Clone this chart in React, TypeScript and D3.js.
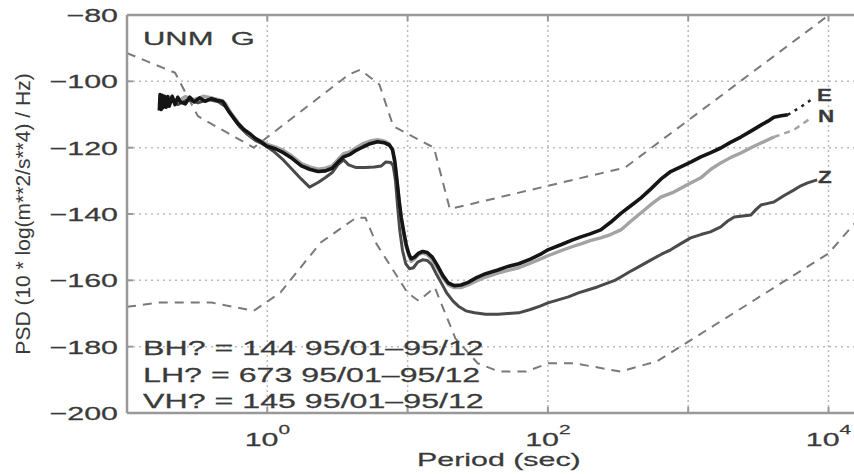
import React from 'react'
import * as d3 from 'd3'

// axis ticks
const yTicks = [-200, -180, -160, -140, -120, -100, -80]
const yGrid = [-180, -160, -140, -120, -100]
const xGrid = [1, 10, 100, 1000, 10000]
const xLabelTicks = [1, 100, 10000]
const xLabelExp = ['0', '2', '4']

const stationLines = ['BH? = 144 95/01\u201395/12', 'LH? = 673 95/01\u201395/12', 'VH? = 145 95/01\u201395/12']

// Peterson high / low noise models (breakpoints)
const nhnmPeriod = [0.1, 0.22, 0.32, 0.8, 3.8, 4.6, 6.3, 7.9, 15.4, 20, 354.8, 10000, 100000]
const nhnmDb = [-91.5, -97.4, -110.5, -120.0, -98.0, -96.5, -101.0, -113.5, -120.0, -138.5, -126.0, -80.1, -48.5]
const nlnmPeriod = [0.1, 0.17, 0.4, 0.8, 1.24, 2.4, 4.3, 5, 6, 10, 12, 15.6, 21.9, 31.6, 45, 70, 101, 154, 328, 600, 10000, 100000]
const nlnmDb = [-168.0, -166.7, -166.7, -169.2, -163.7, -148.6, -141.1, -141.1, -149.0, -163.8, -166.2, -162.1, -177.5, -185.0, -187.5, -187.5, -185.0, -185.0, -187.5, -184.4, -151.9, -103.1]

// E component
const ePeriod = [0.17, 0.172, 0.175, 0.178, 0.18, 0.185, 0.19, 0.195, 0.2, 0.21, 0.22, 0.23, 0.24, 0.26, 0.28, 0.3, 0.33, 0.36, 0.4, 0.44, 0.48, 0.5, 0.53, 0.57, 0.62, 0.68, 0.75, 0.82, 0.9, 1.0, 1.15, 1.3, 1.5, 1.75, 2.0, 2.3, 2.6, 2.9, 3.2, 3.5, 3.9, 4.3, 4.8, 5.4, 6.1, 6.8, 7.4, 7.8, 8.1, 8.4, 8.7, 9.0, 9.4, 9.8, 10.2, 10.6, 11.2, 12.0, 12.8, 13.8, 15.0, 16.3, 17.8, 19.5, 21.5, 24, 27, 31, 36, 44, 52, 62, 75, 88, 100, 125, 150, 172, 200, 238, 280, 331, 390, 459, 540, 638, 750, 885, 1050, 1230, 1450, 1707, 2000, 2371, 2800, 3296, 3700, 4078, 4600, 5129]
const eDb = [-108.8, -104, -108.5, -104.2, -108, -104.5, -107.8, -104.6, -107.5, -104.5, -107, -104.8, -106.2, -106.8, -104.8, -106.2, -105, -106, -105.2, -105.8, -106, -107.2, -109, -110.8, -112.8, -114.5, -115.8, -117.2, -118.2, -119.6, -120.4, -121.5, -123.2, -125.5, -126.5, -127.2, -127, -126.2, -124.3, -122.8, -122, -120.8, -119.8, -118.8, -118.2, -118.5, -119.2, -120.5, -124, -130, -136, -141, -145.5, -149.5, -152, -153.5, -153, -151.8, -151.3, -151.6, -153, -155.5, -158.5, -160.8, -161.6, -161.4, -160.6, -159.2, -158, -156.9, -155.8, -155, -153.6, -152.2, -150.8, -149.2, -147.8, -146.9, -146, -144.8, -142.5, -139.8, -137.5, -135.2, -132.5, -129.5, -127.2, -125.8, -124.3, -122.8, -121.5, -120.1, -118.4, -116.8, -115, -113.2, -112, -110.8, -110.4, -110.1]
const eTailPeriod = [5129, 6353, 7852]
const eTailDb = [-110.1, -107.7, -105]

// N component
const nPeriod = [0.18, 0.2, 0.23, 0.26, 0.3, 0.35, 0.4, 0.45, 0.5, 0.55, 0.62, 0.7, 0.8, 0.9, 1.0, 1.15, 1.3, 1.5, 1.75, 2.0, 2.3, 2.6, 2.9, 3.2, 3.5, 3.9, 4.3, 4.8, 5.4, 6.1, 6.8, 7.4, 7.8, 8.2, 8.5, 8.8, 9.2, 9.6, 10.0, 10.6, 11.2, 12.0, 12.8, 13.8, 15.0, 16.3, 17.8, 19.5, 21.5, 24, 27, 31, 36, 44, 52, 62, 75, 88, 100, 125, 150, 172, 200, 238, 280, 331, 390, 459, 540, 638, 790, 1000, 1230, 1450, 1707, 2000, 2371, 2800, 3296, 4078]
const nDb = [-106, -104.8, -106, -104.6, -105.5, -104.5, -105, -105.5, -106.5, -109.5, -112.5, -115, -117, -118, -119, -119.8, -120.8, -122.5, -124.8, -125.8, -126.5, -126.2, -125.5, -123.5, -121.8, -121.2, -120, -118.8, -118, -117.6, -118, -118.8, -120.8, -126, -132, -138, -144, -148.5, -151.2, -154.3, -153.6, -152.2, -151.8, -152.2, -153.8, -156.2, -159.2, -161.4, -162.2, -162.2, -161.4, -160.2, -159, -157.8, -157, -156.2, -154.8, -153.6, -152.6, -151, -149.8, -149, -148, -147.2, -146.2, -144.8, -142.2, -139.7, -137.2, -134.9, -133.4, -131, -129.1, -126.5, -124.6, -123, -121.6, -120, -118.6, -116.8]
const nTailPeriod = [4078, 5650, 7470]
const nTailDb = [-116.8, -114.7, -111.1]

// Z component
const zPeriod = [0.18, 0.2, 0.23, 0.27, 0.32, 0.38, 0.45, 0.5, 0.56, 0.63, 0.72, 0.82, 0.92, 1.0, 1.1, 1.3, 1.5, 1.75, 2.0, 2.3, 2.6, 2.9, 3.2, 3.5, 3.8, 4.3, 5.0, 5.8, 6.5, 7.0, 7.6, 7.9, 8.2, 8.5, 8.8, 9.2, 9.7, 10.3, 11.0, 11.8, 12.8, 13.8, 14.8, 16, 17.5, 19, 21, 23, 26, 30, 36, 44, 52, 62, 75, 88, 100, 120, 140, 165, 192, 225, 260, 300, 331, 380, 440, 540, 640, 750, 880, 1040, 1230, 1440, 1707, 1900, 2130, 2450, 2800, 3050, 3296, 3700, 4078, 4800, 5650, 6350, 7100, 8300]
const zDb = [-107, -105.5, -107, -105.5, -106.5, -105.5, -106.2, -107.5, -110.5, -113.5, -116, -117.8, -118.8, -119.8, -121, -123.7, -126.5, -129.5, -131.9, -130.5, -129, -127.5, -125, -123.7, -125.2, -126, -126, -125.8, -125.5, -124.3, -124.5, -125.5, -130, -138, -145, -151, -155, -156.5, -156.2, -154.5, -153.8, -154, -155.2, -158, -161, -163.8, -166.2, -167.8, -169.2, -169.8, -170.2, -170.2, -170, -169.8, -168.8, -167.8, -166.8, -165.8, -165, -163.8, -162.9, -162, -161, -160, -159, -157.5, -156, -153.9, -152.2, -150.8, -149, -147.2, -146.2, -145.4, -143.9, -142.2, -140.9, -140.6, -140.3, -138.6, -137.3, -136.8, -136.4, -134.5, -132.8, -131.5, -130.6, -129.7]

const W = 854
const H = 474
const left = 127
const top = 15
const bottom = 413
const decade = 140.3

const xScale = d3.scaleLog().domain([0.1, 2e4]).range([left, left + decade * Math.log10(2e5)])
const yScale = d3.scaleLinear().domain([-200, -80]).range([bottom, top])
const right = xScale(2e4)

const line = d3.line<[number, number]>()
    .x(d => xScale(d[0]))
    .y(d => yScale(d[1]))

const path = (p: number[], v: number[]) => line(d3.zip(p, v) as [number, number][]) || ''

const textCol = '#3a3a3a'

// horizontally stretched text, like the source picture
function SText({ x, y, size, sx = 1.6, anchor = 'start', children, weight = 'normal' }: any) {
    return (
        <text transform={`translate(${x},${y}) scale(${sx},1)`} fontSize={size} textAnchor={anchor}
            fill={textCol} fontWeight={weight} stroke={textCol} strokeWidth={0.25} style={{ whiteSpace: 'pre' }}>
            {children}
        </text>
    )
}

export default function App() {
    return (
        <div style={{ position: 'absolute', left: 0, top: 0 }}>
            <svg width={W} height={H} style={{ display: 'block', background: '#fff' }}
                fontFamily="'Liberation Sans', Arial, Helvetica, sans-serif">
                <defs>
                    <clipPath id="plot">
                        <rect x={left} y={top} width={right - left} height={bottom - top} />
                    </clipPath>
                </defs>

                {/* grid */}
                {yGrid.map(v => (
                    <line key={'gy' + v} x1={left} x2={right} y1={yScale(v)} y2={yScale(v)}
                        stroke="#bbb" strokeWidth={1.5} strokeDasharray="2,4" />
                ))}
                {xGrid.map(v => (
                    <line key={'gx' + v} x1={xScale(v)} x2={xScale(v)} y1={top} y2={bottom}
                        stroke="#bbb" strokeWidth={1.5} strokeDasharray="2,3" />
                ))}

                <g clipPath="url(#plot)" fill="none" strokeLinejoin="round">
                    <path d={path(nhnmPeriod, nhnmDb)} stroke="#7a7a7a" strokeWidth={2} strokeDasharray="9,7" />
                    <path d={path(nlnmPeriod, nlnmDb)} stroke="#7a7a7a" strokeWidth={2} strokeDasharray="9,7" />
                    <path d={path(zPeriod, zDb)} stroke="#4a4a4a" strokeWidth={3} />
                    <path d={path(nPeriod, nDb)} stroke="#a3a3a3" strokeWidth={3.4} />
                    <path d={path(nTailPeriod, nTailDb)} stroke="#a3a3a3" strokeWidth={2.5} strokeDasharray="6,5" />
                    <path d={path(ePeriod, eDb)} stroke="#151515" strokeWidth={3.6} />
                    <path d={path(eTailPeriod, eTailDb)} stroke="#222" strokeWidth={2.5} strokeDasharray="3,5" />
                </g>

                {/* axes box */}
                <line x1={left} x2={left} y1={top} y2={bottom} stroke="#999" strokeWidth={2.5} />
                <line x1={left} x2={right} y1={bottom} y2={bottom} stroke="#999" strokeWidth={2.5} />
                <line x1={left} x2={right} y1={top} y2={top} stroke="#999" strokeWidth={2.5} />
                {yTicks.map(v => (
                    <line key={'ty' + v} x1={left} x2={left + 6} y1={yScale(v)} y2={yScale(v)} stroke="#999" strokeWidth={2} />
                ))}
                {xGrid.map(v => (
                    <g key={'tx' + v}>
                        <line x1={xScale(v)} x2={xScale(v)} y1={bottom} y2={bottom - 6} stroke="#999" strokeWidth={2} />
                        <line x1={xScale(v)} x2={xScale(v)} y1={top} y2={top + 6} stroke="#999" strokeWidth={2} />
                    </g>
                ))}

                {/* tick labels */}
                {yTicks.map(v => (
                    <SText key={'ly' + v} x={118} y={yScale(v) + 7} size={19} anchor="end">
                        {'\u2212' + Math.abs(v)}
                    </SText>
                ))}
                {xLabelTicks.map((v, i) => (
                    <text key={'lx' + v} transform={`translate(${xScale(v)},446) scale(1.6,1)`} textAnchor="middle"
                        fontSize={19} fill={textCol} stroke={textCol} strokeWidth={0.25}>
                        <tspan>10</tspan>
                        <tspan dy={-12} fontSize={13}>{xLabelExp[i]}</tspan>
                    </text>
                ))}

                {/* axis titles */}
                <SText x={(left + right) / 2} y={466} size={19} anchor="middle">Period (sec)</SText>
                <text transform="translate(30,214) rotate(-90)" fontSize={21} textAnchor="middle" fill={textCol}>
                    PSD (10 * log(m**2/s**4) / Hz)
                </text>

                {/* annotations */}
                <SText x={143} y={45} size={18} sx={1.72}>{'UNM  G'}</SText>
                {stationLines.map((s, i) => (
                    <SText key={s} x={143} y={355 + i * 26.5} size={20.5} sx={1.57}>{s}</SText>
                ))}
                <SText x={817} y={101} size={16} sx={1.4} weight="bold">E</SText>
                <SText x={818} y={122} size={16} sx={1.4} weight="bold">N</SText>
                <SText x={818} y={183} size={16} sx={1.4} weight="bold">Z</SText>
            </svg>
        </div>
    )
}
